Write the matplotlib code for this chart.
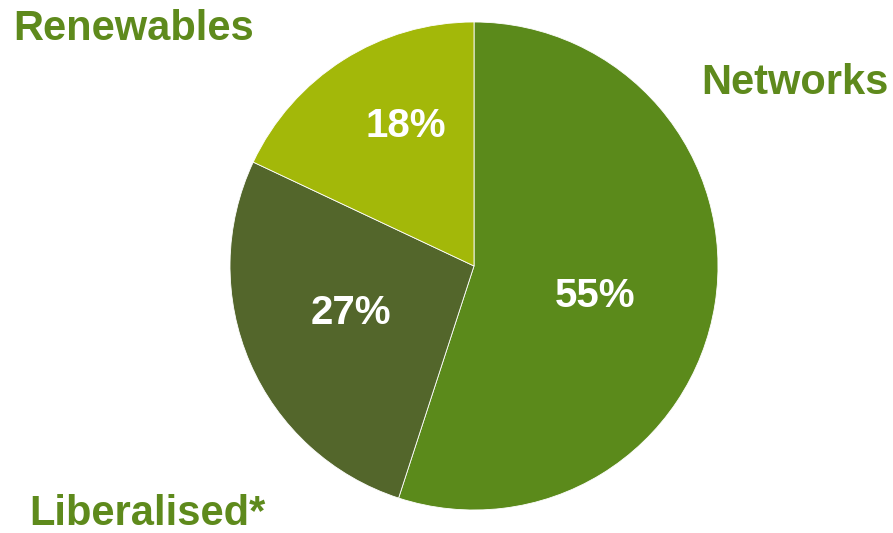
import numpy as np
import matplotlib
matplotlib.use('Agg')
from matplotlib import pyplot as plt

# data
segments = ['Networks', 'Liberalised*', 'Renewables']
shares = [55, 27, 18]
colors = ['#5b8a1b', '#53662b', '#a3b809']
label_color = '#5e8a1c'

plt.rcParams['font.family'] = ['Liberation Sans', 'DejaVu Sans']

fig = plt.figure(figsize = (8.93, 5.33), dpi = 100)
ax = fig.add_axes([0, 0, 1, 1])

cx, cy, r = 474, 266, 244
# y axis is inverted below, so counterclock + -90 start gives clockwise from the top
wedges, _ = ax.pie(shares, colors = colors, startangle = -90, counterclock = True,
        center = (cx, cy), radius = r, frame = True,
        wedgeprops = dict(edgecolor = 'white', linewidth = 0.6))
ax.set_xlim(0, 893)
ax.set_ylim(533, 0)
ax.set_aspect('equal')
ax.axis('off')

# percent labels inside the slices (distance, angle nudge in degrees)
dist = [0.51, 0.54, 0.64]
nudge = [5, 2.3, 6.5]
for w, s, d, n in zip(wedges, shares, dist, nudge):
    ang = np.deg2rad((w.theta1 + w.theta2) / 2 + n)
    x = cx + d * r * np.cos(ang)
    y = cy + d * r * np.sin(ang)
    ax.text(x, y, '{}%'.format(s), color = 'white', fontsize = 29, fontweight = 'bold',
            ha = 'center', va = 'center')

# outside labels
ax.text(889, 83, segments[0], color = label_color, fontsize = 30, fontweight = 'bold',
        ha = 'right', va = 'center')
ax.text(29, 514, segments[1], color = label_color, fontsize = 30, fontweight = 'bold',
        ha = 'left', va = 'center')
ax.text(13, 29, segments[2], color = label_color, fontsize = 30, fontweight = 'bold',
        ha = 'left', va = 'center')

fig.savefig('out.png', dpi = 100)
